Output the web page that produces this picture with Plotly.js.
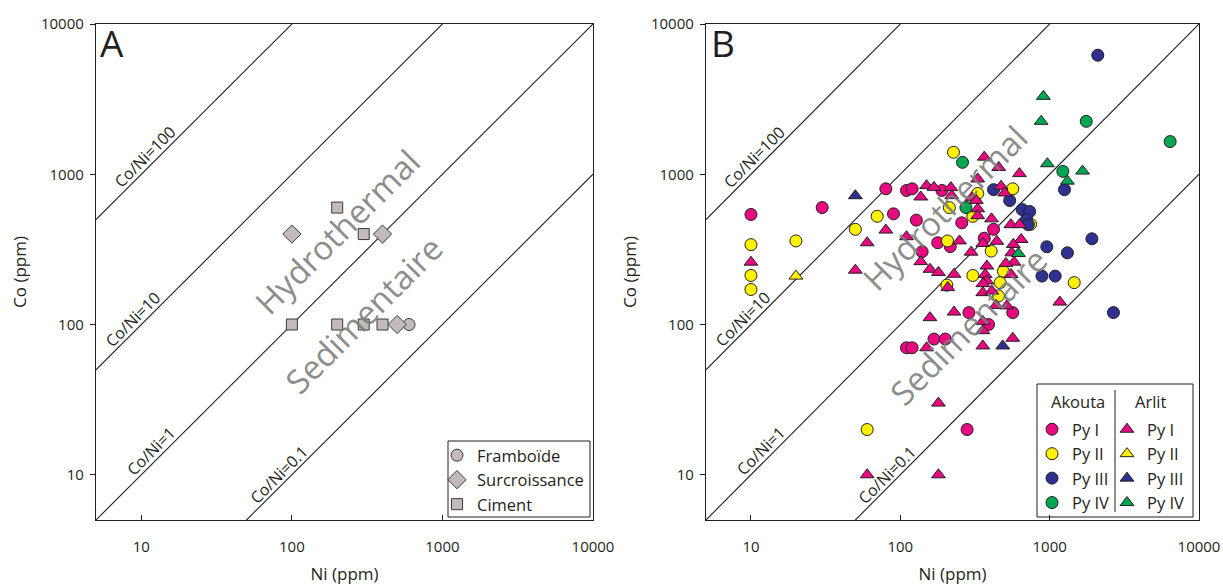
<!DOCTYPE html>
<html><head><meta charset="utf-8">
<script src="https://cdn.plot.ly/plotly-3.0.1.min.js"></script>
<style>html,body{margin:0;padding:0;background:#fff}</style>
</head><body><div id="chart" style="width:1223px;height:587px"></div>
<script>
// ---- axes / reference lines ----
const niRange = [5, 10000];
const coRange = [5, 10000];
const tickVals = [10, 100, 1000, 10000];
const tickText = ['10', '100', '1000', '10000'];
const ratios = [100, 10, 1, 0.1];
const ratioLabels = ['Co/Ni=100', 'Co/Ni=10', 'Co/Ni=1', 'Co/Ni=0.1'];
const ratioLabelNi = [10.5, 8.8, 11.6, 81];

// ---- Panel A ----
const framboideNi = [600];
const framboideCo = [100];
const surcroissanceNi = [100, 400, 500];
const surcroissanceCo = [400, 400, 100];
const cimentNi = [200, 300, 100, 200, 300, 400];
const cimentCo = [600, 400, 100, 100, 100, 100];

// ---- Panel B : Akouta (circles) ----
const akPy1Ni = [10, 30, 80, 90, 110, 120, 128, 140, 178, 216, 190, 258, 421, 365, 566, 288, 390, 110, 120, 168, 200, 280];
const akPy1Co = [540, 600, 800, 545, 780, 800, 495, 305, 350, 330, 780, 475, 430, 375, 120, 120, 100, 70, 70, 80, 80, 20];
const akPy2Ni = [10, 10, 10, 20, 50, 70, 227, 566, 330, 213, 306, 207, 406, 306, 205, 466, 490, 454, 745, 1460, 60];
const akPy2Co = [340, 212, 171, 360, 430, 525, 1400, 800, 745, 600, 525, 360, 308, 212, 183, 190, 226, 155, 465, 190, 20];
const akPy3Ni = [421, 540, 655, 735, 700, 720, 2100, 1257, 1918, 957, 1315, 888, 1089, 2674];
const akPy3Co = [790, 668, 582, 565, 500, 462, 6200, 790, 372, 329, 300, 210, 210, 120];
const akPy4Ni = [261, 275, 1758, 6410, 1225];
const akPy4Co = [1200, 600, 2250, 1650, 1045];

// ---- Panel B : Arlit (triangles) ----
const arPy1Ni = [10, 50, 60, 80, 110, 137, 150, 168, 218, 221, 137, 158, 180, 229, 208, 158, 229, 150, 357, 566, 365, 456, 628, 330, 473, 500, 301, 323, 330, 330, 408, 550, 628, 443, 357, 644, 571, 249, 298, 558, 578, 509, 380, 370, 552, 380, 357, 357, 410, 438, 517, 357, 357, 1170, 180, 60, 180];
const arPy1Co = [260, 230, 350, 425, 384, 706, 840, 818, 815, 721, 262, 233, 222, 216, 176, 111, 121, 70, 72, 81, 1300, 1110, 1010, 930, 832, 751, 697, 670, 589, 530, 505, 462, 462, 358, 346, 368, 341, 360, 303, 300, 260, 255, 245, 215, 215, 195, 187, 163, 167, 134, 133, 105, 91, 141, 30, 10, 10];
const arPy2Ni = [20];
const arPy2Co = [210];
const arPy3Ni = [50, 485];
const arPy3Co = [720, 72];
const arPy4Ni = [908, 877, 966, 1660, 1315, 618];
const arPy4Co = [3300, 2250, 1175, 1050, 900, 297];

const W = 1223, H = 587;
const FONT = 'Open Sans, Arial, sans-serif';
const INK = '#231f20';
const px = v => v / W;
const py = v => 1 - v / H;

const traces = [];
// ratio lines in both panels
[['x', 'y'], ['x2', 'y2']].forEach(([xa, ya]) => {
  ratios.forEach(r => {
    traces.push({
      x: niRange.slice(), y: niRange.map(n => n * r),
      xaxis: xa, yaxis: ya, mode: 'lines', showlegend: false,
      line: {color: INK, width: 1.1}, hoverinfo: 'skip'
    });
  });
});

const grayFill = '#c3bbbb', grayLine = '#3a3a3a';
function mk(name, xs, ys, symbol, color, xa, ya, legend, size, lineColor) {
  return {name, x: xs, y: ys, xaxis: xa, yaxis: ya, mode: 'markers', type: 'scatter',
    legend, marker: {symbol, size, color, line: {color: lineColor, width: 1}}};
}
traces.push(mk('Framboïde', framboideNi, framboideCo, 'circle', grayFill, 'x', 'y', 'legend', 12, grayLine));
traces.push(mk('Surcroissance', surcroissanceNi, surcroissanceCo, 'diamond', grayFill, 'x', 'y', 'legend', 14, grayLine));
traces.push(mk('Ciment', cimentNi, cimentCo, 'square', grayFill, 'x', 'y', 'legend', 11, grayLine));

const cPink = '#e6097f', cYellow = '#fff200', cBlue = '#2e3192', cGreen = '#00a651';
const akSets = [[akPy1Ni, akPy1Co, cPink, 'Py I'], [akPy2Ni, akPy2Co, cYellow, 'Py II'], [akPy3Ni, akPy3Co, cBlue, 'Py III'], [akPy4Ni, akPy4Co, cGreen, 'Py IV']];
const arSets = [[arPy1Ni, arPy1Co, cPink, 'Py I'], [arPy2Ni, arPy2Co, cYellow, 'Py II'], [arPy3Ni, arPy3Co, cBlue, 'Py III'], [arPy4Ni, arPy4Co, cGreen, 'Py IV']];
akSets.forEach(s => traces.push(mk(s[3], s[0], s[1], 'circle', s[2], 'x2', 'y2', 'legend2', 12, INK)));
arSets.forEach(s => traces.push(mk(s[3], s[0], s[1], 'triangle-up', s[2], 'x2', 'y2', 'legend3', 12, INK)));

function axis(dom, anchor, isX) {
  return {
    type: 'log', range: [Math.log10(isX ? niRange[0] : coRange[0]), Math.log10(isX ? niRange[1] : coRange[1])],
    domain: dom, anchor, showline: true, mirror: true, linecolor: INK, linewidth: 1.2,
    showgrid: false, zeroline: false, tickmode: 'array', tickvals: tickVals, ticktext: tickText,
    ticks: isX ? 'inside' : 'outside', ticklen: 5, tickwidth: 1, tickcolor: INK,
    tickfont: {family: FONT, size: 15, color: INK},
    ticklabelstandoff: isX ? 13 : 3,
    title: isX ? {text: 'Ni (ppm)', font: {family: FONT, size: 17, color: INK}, standoff: 12}
               : {text: 'Co (ppm)', font: {family: FONT, size: 17, color: INK}, standoff: 10}
  };
}
const yDom = [py(520), py(24)];

const annotations = [];
[['x', 'y'], ['x2', 'y2']].forEach(([xa, ya]) => {
  ratios.forEach((r, i) => {
    const n = ratioLabelNi[i];
    annotations.push({xref: xa, yref: ya, x: Math.log10(n), y: Math.log10(n * r), text: ratioLabels[i],
      showarrow: false, textangle: -45, yshift: 14, font: {family: FONT, size: 16, color: INK}});
  });
});
const zoneFont = {family: FONT, size: 33, color: 'rgba(125,125,125,0.9)'};
annotations.push({xref: 'x', yref: 'y', x: Math.log10(200), y: Math.log10(419), text: 'Hydrothermal', showarrow: false, textangle: -45, font: zoneFont});
annotations.push({xref: 'x', yref: 'y', x: Math.log10(300), y: Math.log10(117), text: 'Sedimentaire', showarrow: false, textangle: -45, font: zoneFont});
annotations.push({xref: 'x2', yref: 'y2', x: Math.log10(200), y: Math.log10(600), text: 'Hydrothermal', showarrow: false, textangle: -45, font: zoneFont});
annotations.push({xref: 'x2', yref: 'y2', x: Math.log10(284), y: Math.log10(97), text: 'Sedimentaire', showarrow: false, textangle: -45, font: zoneFont});
annotations.push({xref: 'paper', yref: 'paper', x: px(98), y: py(42), xanchor: 'left', yanchor: 'middle', text: 'A', showarrow: false, font: {family: FONT, size: 37, color: INK}});
annotations.push({xref: 'paper', yref: 'paper', x: px(709), y: py(42), xanchor: 'left', yanchor: 'middle', text: 'B', showarrow: false, font: {family: FONT, size: 37, color: INK}});
annotations.push({xref: 'paper', yref: 'paper', x: px(1078), y: py(401), xanchor: 'center', yanchor: 'middle', text: 'Akouta', showarrow: false, font: {family: FONT, size: 16.5, color: INK}});
annotations.push({xref: 'paper', yref: 'paper', x: px(1151), y: py(401), xanchor: 'center', yanchor: 'middle', text: 'Arlit', showarrow: false, font: {family: FONT, size: 16.5, color: INK}});

const shapes = [
  {type: 'rect', xref: 'paper', yref: 'paper', x0: px(448), x1: px(590), y0: py(517), y1: py(441), line: {color: INK, width: 1}, fillcolor: 'rgba(0,0,0,0)'},
  {type: 'rect', xref: 'paper', yref: 'paper', x0: px(1037), x1: px(1193), y0: py(517), y1: py(384), line: {color: INK, width: 1}, fillcolor: 'rgba(0,0,0,0)'},
  {type: 'line', xref: 'paper', yref: 'paper', x0: px(1115), x1: px(1115), y0: py(512), y1: py(390), line: {color: INK, width: 1}}
];

const legBase = {bgcolor: 'rgba(0,0,0,0)', borderwidth: 0, font: {family: FONT, size: 16.5, color: INK},
  xanchor: 'left', yanchor: 'top', itemwidth: 30, tracegroupgap: 0};

const layout = {
  width: W, height: H, margin: {l: 0, r: 0, t: 0, b: 0},
  paper_bgcolor: '#fff', plot_bgcolor: '#fff', font: {family: FONT, color: INK},
  xaxis: axis([px(96), px(593)], 'y', true),
  yaxis: axis(yDom, 'x', false),
  xaxis2: axis([px(706), px(1199)], 'y2', true),
  yaxis2: axis(yDom, 'x2', false),
  legend: Object.assign({}, legBase, {x: px(437), y: py(438)}),
  legend2: Object.assign({}, legBase, {x: px(1032), y: py(412)}),
  legend3: Object.assign({}, legBase, {x: px(1107), y: py(412)}),
  annotations, shapes, hovermode: false
};

Plotly.newPlot('chart', traces, layout, {staticPlot: true, displayModeBar: false});
</script></body></html>
